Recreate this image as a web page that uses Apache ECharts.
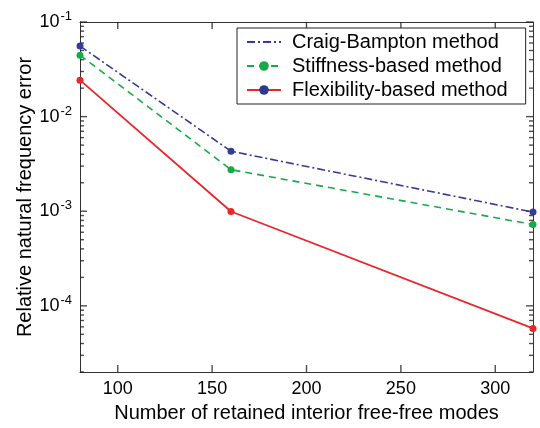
<!DOCTYPE html>
<html>
<head>
<meta charset="utf-8">
<script src="https://cdn.jsdelivr.net/npm/echarts@6/dist/echarts.min.js"></script>
<style>html,body{margin:0;padding:0;background:#fff}#c{width:540px;height:428px}</style>
</head>
<body>
<div id="c"></div>
<script>
const xValues = [80, 160, 320];
const craigBampton = [0.0557, 0.00431, 0.00098];
const stiffness = [0.0446, 0.00275, 0.000724];
const flexibility = [0.0243, 0.000993, 0.0000578];
const xTicks = [100, 150, 200, 250, 300];
const yMajor = [1e-4, 1e-3, 1e-2, 1e-1];
const yMinor = [];
[1e-5, 1e-4, 1e-3, 1e-2].forEach(function (d) {
  for (let k = 2; k <= 9; k++) { const v = k * d; if (v >= 2e-5) yMinor.push(v); }
});
const names = ['Craig-Bampton method', 'Stiffness-based method', 'Flexibility-based method'];
const colors = ['#363c96', '#17a94a', '#e8262b'];

const FONT = 'Liberation Sans, Arial, Helvetica, sans-serif';
const axisColor = '#333';
const tickColor = '#222';
const xMin = 80, xMax = 320;
const yMin = 2e-5, yMax = 1e-1;

function mkPairs(ys) { return xValues.map(function (x, i) { return [x, ys[i]]; }); }
function lineBase() { return { type: 'solid', color: axisColor, width: 1 }; }

function tickSeries(data, size, offset) {
  return {
    type: 'scatter', data: data, xAxisIndex: 0, yAxisIndex: 0,
    symbol: 'rect', symbolSize: size, symbolOffset: offset,
    itemStyle: { color: tickColor }, silent: true, clip: false, z: 3,
    emphasis: { disabled: true }, legendHoverLink: false
  };
}

const chart = echarts.init(document.getElementById('c'), null, { renderer: 'canvas' });
chart.setOption({
  animation: false,
  textStyle: { fontFamily: FONT },
  grid: { left: 80, right: 7, top: 22, bottom: 47, containLabel: false },
  legend: {
    orient: 'vertical',
    left: 237, top: 28,
    backgroundColor: '#fff',
    borderColor: '#222', borderWidth: 1, borderRadius: 0,
    padding: [3, 18, 3, 9],
    itemWidth: 34, itemHeight: 12, itemGap: 2,
    textStyle: { fontFamily: FONT, fontSize: 20, color: '#000', lineHeight: 22, padding: [0, 0, 0, 6] },
    data: [
      { name: names[0], itemStyle: { opacity: 0 } },
      { name: names[1] },
      { name: names[2], itemStyle: { color: '#2e3a8c' } }
    ],
    z: 10
  },
  xAxis: [
    {
      type: 'value', min: xMin, max: xMax, position: 'bottom',
      axisLine: { show: true, onZero: false, lineStyle: lineBase() },
      axisTick: { show: false },
      axisLabel: { show: true, customValues: xTicks, fontSize: 18, color: '#000', margin: 8, fontFamily: FONT },
      splitLine: { show: false },
      name: 'Number of retained interior free-free modes',
      nameLocation: 'middle', nameGap: 31,
      nameTextStyle: { fontSize: 20, color: '#000', fontFamily: FONT }
    },
    {
      type: 'value', min: xMin, max: xMax, position: 'top',
      axisLine: { show: true, onZero: false, lineStyle: lineBase() },
      axisTick: { show: false },
      axisLabel: { show: false },
      splitLine: { show: false }
    }
  ],
  yAxis: [
    {
      type: 'log', logBase: 10, min: yMin, max: yMax, position: 'left',
      axisLine: { show: true, onZero: false, lineStyle: lineBase() },
      axisTick: { show: false },
      axisLabel: {
        show: true, customValues: yMajor, margin: 8, color: '#000',
        formatter: function (v) { return '{b|10}{s|' + Math.round(Math.log10(v)) + '}'; },
        rich: {
          b: { fontSize: 18, fontFamily: FONT, color: '#000' },
          s: { fontSize: 13, fontFamily: FONT, color: '#000', padding: [0, 0, 11, 1] }
        }
      },
      splitLine: { show: false },
      name: 'Relative natural frequency error',
      nameLocation: 'middle', nameGap: 45, nameMoveOverlap: false,
      nameTextStyle: { fontSize: 20, color: '#000', fontFamily: FONT }
    },
    {
      type: 'log', logBase: 10, min: yMin, max: yMax, position: 'right',
      axisLine: { show: true, onZero: false, lineStyle: lineBase() },
      axisTick: { show: false },
      axisLabel: { show: false },
      splitLine: { show: false }
    }
  ],
  series: [
    tickSeries(yMinor.map(function (v) { return [xMin, v]; }), [4, 1.4], [2, 0]),
    tickSeries(yMinor.map(function (v) { return [xMax, v]; }), [4, 1.4], [-2, 0]),
    tickSeries(yMajor.map(function (v) { return [xMin, v]; }), [7, 1.4], [3.5, 0]),
    tickSeries(yMajor.map(function (v) { return [xMax, v]; }), [7, 1.4], [-3.5, 0]),
    tickSeries(xTicks.map(function (x) { return [x, yMin]; }), [1.4, 7], [0, -3.5]),
    tickSeries(xTicks.map(function (x) { return [x, yMax]; }), [1.4, 7], [0, 3.5]),
    {
      name: names[0], type: 'line', data: mkPairs(craigBampton),
      xAxisIndex: 0, yAxisIndex: 0,
      symbol: 'circle', symbolSize: 7, clip: false, z: 5,
      lineStyle: { color: colors[0], width: 1.6, type: [8, 3, 2, 3] },
      itemStyle: { color: colors[0] }
    },
    {
      name: names[1], type: 'line', data: mkPairs(stiffness),
      xAxisIndex: 0, yAxisIndex: 0,
      symbol: 'circle', symbolSize: 7, clip: false, z: 5,
      lineStyle: { color: colors[1], width: 1.6, type: [7, 5] },
      itemStyle: { color: colors[1] }
    },
    {
      name: names[2], type: 'line', data: mkPairs(flexibility),
      xAxisIndex: 0, yAxisIndex: 0,
      symbol: 'circle', symbolSize: 7, clip: false, z: 5,
      lineStyle: { color: colors[2], width: 1.8, type: 'solid' },
      itemStyle: { color: colors[2] }
    }
  ]
});
</script>
</body>
</html>
